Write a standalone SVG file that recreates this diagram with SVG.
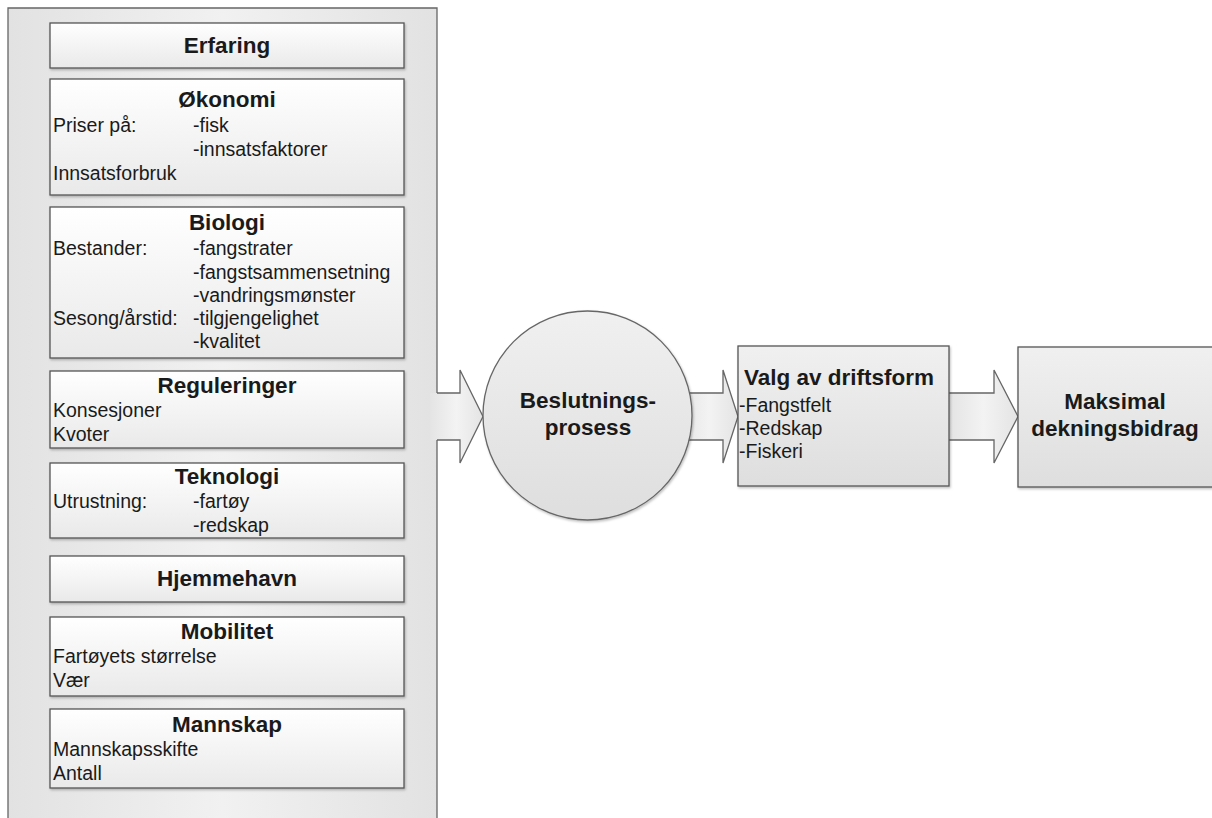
<svg xmlns="http://www.w3.org/2000/svg" width="1212" height="818" viewBox="0 0 1212 818">
<defs>
<linearGradient id="gBox" x1="0" y1="0" x2="0" y2="1"><stop offset="0" stop-color="#ffffff"/><stop offset="1" stop-color="#e9e9e9"/></linearGradient>
<linearGradient id="gCont" x1="0" y1="0" x2="1" y2="0"><stop offset="0" stop-color="#e2e2e2"/><stop offset="0.5" stop-color="#f1f1f1"/><stop offset="1" stop-color="#e2e2e2"/></linearGradient>
<linearGradient id="gGray" x1="0" y1="0" x2="0" y2="1"><stop offset="0" stop-color="#f0f0f0"/><stop offset="1" stop-color="#dedede"/></linearGradient>
<linearGradient id="gArrow" x1="0" y1="0" x2="1" y2="0"><stop offset="0" stop-color="#e4e4e4"/><stop offset="0.5" stop-color="#f3f3f3"/><stop offset="1" stop-color="#e4e4e4"/></linearGradient>
<filter id="sh" x="-5%" y="-5%" width="110%" height="115%"><feDropShadow dx="1" dy="1.5" stdDeviation="1.2" flood-color="#000" flood-opacity="0.25"/></filter>
</defs>
<style>
.box{fill:url(#gBox);stroke:#555;stroke-width:1.3}
.t{font-family:"Liberation Sans",Arial,sans-serif;font-size:19.5px;fill:#1a1a1a}
.b{font-family:"Liberation Sans",Arial,sans-serif;font-size:22.5px;font-weight:bold;fill:#1a1a1a}
.c{text-anchor:middle}
.ar{fill:url(#gArrow);stroke:none}
.al{fill:none;stroke:#666;stroke-width:1.3}
</style>
<rect width="1212" height="818" fill="#ffffff"/>
<g id="container">
<rect x="8" y="8" width="429" height="820" fill="url(#gCont)"/>
<path d="M437,393 V8 H8 V828 H437 V440" fill="none" stroke="#666" stroke-width="1.3"/>
</g>
<g id="connectors">
<path class="ar" d="M430,393 H460 V370 L483,416.5 L460,463 V440 H430 Z"/>
<path class="al" d="M437,393 H460 V370 L483,416.5 L460,463 V440 H437"/>
<path class="ar" d="M680,393 H723 V370 L738,416.5 L723,463 V440 H680 Z"/>
<path class="al" d="M680,393 H723 V370 L738,416.5 L723,463 V440 H680"/>
<path class="ar" d="M949,393 H994 V370 L1018,416.5 L994,463 V440 H949 Z"/>
<path class="al" d="M949,393 H994 V370 L1018,416.5 L994,463 V440 H949"/>
</g>
<g id="erfaring">
<rect class="box" x="50" y="23" width="354" height="45" filter="url(#sh)"/>
<text class="b c" x="227" y="53">Erfaring</text>
</g>
<g id="okonomi">
<rect class="box" x="50" y="79" width="354" height="116" filter="url(#sh)"/>
<text class="b c" x="227" y="107">Økonomi</text>
<text class="t" x="53" y="132">Priser på:</text>
<text class="t" x="193" y="132">-fisk</text>
<text class="t" x="193" y="156">-innsatsfaktorer</text>
<text class="t" x="53" y="180">Innsatsforbruk</text>
</g>
<g id="biologi">
<rect class="box" x="50" y="207" width="354" height="151" filter="url(#sh)"/>
<text class="b c" x="227" y="230">Biologi</text>
<text class="t" x="53" y="255">Bestander:</text>
<text class="t" x="193" y="255">-fangstrater</text>
<text class="t" x="193" y="279">-fangstsammensetning</text>
<text class="t" x="193" y="302">-vandringsmønster</text>
<text class="t" x="53" y="325">Sesong/årstid:</text>
<text class="t" x="193" y="325">-tilgjengelighet</text>
<text class="t" x="193" y="348">-kvalitet</text>
</g>
<g id="reguleringer">
<rect class="box" x="50" y="371" width="354" height="77" filter="url(#sh)"/>
<text class="b c" x="227" y="393">Reguleringer</text>
<text class="t" x="53" y="417">Konsesjoner</text>
<text class="t" x="53" y="441">Kvoter</text>
</g>
<g id="teknologi">
<rect class="box" x="50" y="463" width="354" height="75" filter="url(#sh)"/>
<text class="b c" x="227" y="484">Teknologi</text>
<text class="t" x="53" y="508">Utrustning:</text>
<text class="t" x="193" y="508">-fartøy</text>
<text class="t" x="193" y="532">-redskap</text>
</g>
<g id="hjemmehavn">
<rect class="box" x="50" y="556" width="354" height="46" filter="url(#sh)"/>
<text class="b c" x="227" y="586">Hjemmehavn</text>
</g>
<g id="mobilitet">
<rect class="box" x="50" y="617" width="354" height="79" filter="url(#sh)"/>
<text class="b c" x="227" y="639">Mobilitet</text>
<text class="t" x="53" y="663">Fartøyets størrelse</text>
<text class="t" x="53" y="687">Vær</text>
</g>
<g id="mannskap">
<rect class="box" x="50" y="709" width="354" height="79" filter="url(#sh)"/>
<text class="b c" x="227" y="732">Mannskap</text>
<text class="t" x="53" y="756">Mannskapsskifte</text>
<text class="t" x="53" y="780">Antall</text>
</g>
<g id="beslutning">
<circle cx="587.5" cy="415.5" r="104.5" fill="url(#gGray)" stroke="#666" stroke-width="1.3" filter="url(#sh)"/>
<text class="b c" x="588" y="408">Beslutnings-</text>
<text class="b c" x="588" y="435">prosess</text>
</g>
<g id="valg">
<rect x="738" y="346" width="211" height="140" fill="url(#gGray)" stroke="#555" stroke-width="1.3" filter="url(#sh)"/>
<text class="b" x="744" y="385">Valg av driftsform</text>
<text class="t" x="739" y="412">-Fangstfelt</text>
<text class="t" x="739" y="435">-Redskap</text>
<text class="t" x="739" y="458">-Fiskeri</text>
</g>
<g id="maksimal">
<rect x="1018" y="347" width="200" height="140" fill="url(#gGray)" stroke="#555" stroke-width="1.3" filter="url(#sh)"/>
<text class="b c" x="1115" y="409">Maksimal</text>
<text class="b c" x="1115" y="436">dekningsbidrag</text>
</g>
</svg>
